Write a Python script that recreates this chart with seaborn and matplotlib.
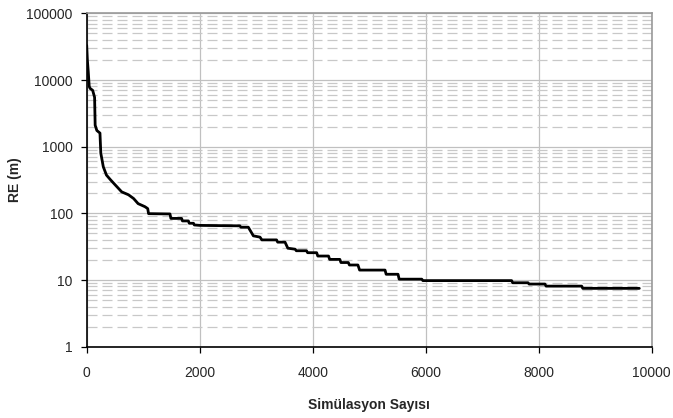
import matplotlib
matplotlib.use("Agg")
import matplotlib.pyplot as plt
import matplotlib.ticker as mticker
import seaborn as sns
import pandas as pd

# Data (polyline corners)
sim_count = [0, 12, 28, 45, 60, 106, 140, 150, 180, 235, 250, 294, 350, 420, 500,
             620, 740, 830, 910, 1030, 1080, 1095, 1474, 1490, 1680, 1695, 1800, 1815,
             1890, 1905, 2000, 2710, 2730, 2860, 2950, 3067, 3100, 3360, 3380, 3510,
             3560, 3690, 3710, 3890, 3910, 4070, 4090, 4280, 4300, 4480, 4500, 4630,
             4650, 4800, 4830, 5280, 5300, 5510, 5530, 5930, 5950, 7520, 7540, 7810,
             7830, 8110, 8130, 8760, 8780, 9780]
re_m = [33000, 20000, 13300, 8000, 7500, 7000, 5500, 2100, 1750, 1600, 800, 500, 375,
        320, 270, 210, 190, 167, 140, 126, 118, 99, 98, 84, 84, 77, 77, 71,
        71, 67, 66, 65, 62, 62, 46, 44, 40, 40, 37, 37,
        30, 29, 27.5, 27.5, 25.7, 25.7, 22.9, 22.9, 20.4, 20.4, 18.3, 18.3,
        16.8, 16.8, 14.1, 14.1, 12.2, 12.2, 10.3, 10.3, 9.8, 9.8, 9.1, 9.1,
        8.7, 8.7, 8.1, 8.1, 7.5, 7.5]

x_ticks = [0, 2000, 4000, 6000, 8000, 10000]
y_ticks = [1, 10, 100, 1000, 10000, 100000]
x_label = "Simülasyon Sayısı"
y_label = "RE (m)"

df = pd.DataFrame({"x": sim_count, "y": re_m})

sns.set_style("white")
plt.rcParams["font.family"] = ["Liberation Sans", "DejaVu Sans"]

fig = plt.figure(figsize=(6.73, 4.18), dpi=100)
ax = fig.add_axes([0.1288, 0.1706, 0.9684 - 0.1288, 0.968 - 0.1706])

ax.set_yscale("log")
ax.set_xlim(0, 10000)
ax.set_ylim(1, 100000)

# grid
ax.set_axisbelow(True)
ax.yaxis.set_minor_locator(mticker.LogLocator(base=10, subs=range(2, 10)))
ax.grid(which="major", axis="both", color="#c0c0c0", linewidth=0.9, linestyle="-")
ax.grid(which="minor", axis="y", color="#c8c8c8", linewidth=0.9, linestyle=(0, (8, 4)))
ax.grid(which="minor", axis="x", visible=False)

sns.lineplot(data=df, x="x", y="y", sort=False, color="black", linewidth=2.0,
             estimator=None, ax=ax)

ax.set_xticks(x_ticks)
ax.set_xticklabels([str(t) for t in x_ticks])
ax.set_yticks(y_ticks)
ax.set_yticklabels([str(t) for t in y_ticks])
ax.tick_params(axis="both", which="major", labelsize=10, length=4, width=0.9,
               color="black", direction="out")
ax.tick_params(axis="x", pad=10)
ax.tick_params(axis="y", pad=6)
ax.tick_params(axis="y", which="minor", length=0)
ax.xaxis.set_ticks_position("bottom")
ax.yaxis.set_ticks_position("left")

for side in ["left", "bottom"]:
    ax.spines[side].set_color("black")
    ax.spines[side].set_linewidth(1.2)
for side in ["top", "right"]:
    ax.spines[side].set_color("#999999")
    ax.spines[side].set_linewidth(1.2)

ax.set_xlabel(x_label, fontsize=10, fontweight="bold", labelpad=13)
ax.set_ylabel(y_label, fontsize=10, fontweight="bold", labelpad=3.5)

fig.savefig("out.png", dpi=100)
